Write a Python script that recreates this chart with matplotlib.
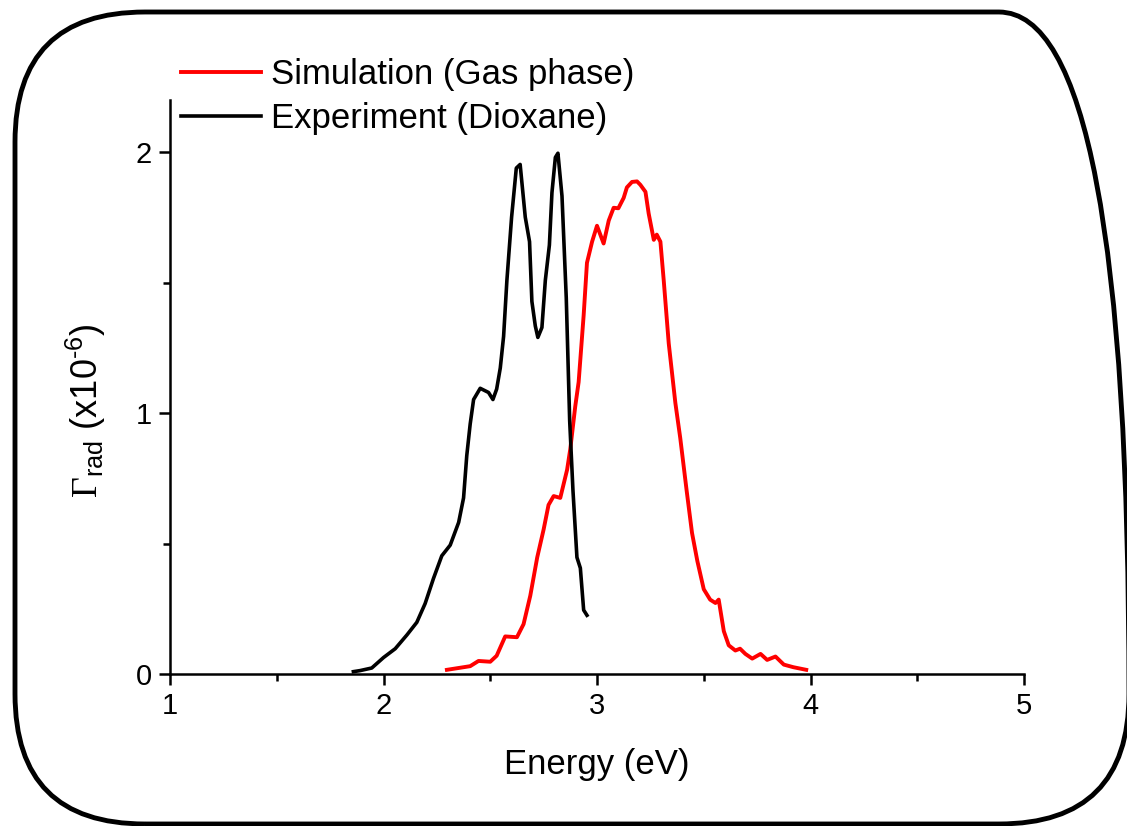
import numpy as np
import matplotlib
matplotlib.use("Agg")
import matplotlib.pyplot as plt
from matplotlib.patches import FancyBboxPatch
from matplotlib.ticker import MultipleLocator

plt.rcParams['font.family'] = ['Liberation Sans', 'DejaVu Sans']
plt.rcParams['mathtext.fontset'] = 'custom'
plt.rcParams['mathtext.rm'] = 'Liberation Serif'
plt.rcParams['mathtext.sf'] = 'Liberation Sans'
plt.rcParams['axes.unicode_minus'] = False

# experiment (dioxane)
exp_energy = [1.859, 1.89, 1.945, 2.0, 2.055, 2.11, 2.156, 2.195, 2.234, 2.273,
              2.3125, 2.352, 2.375, 2.39, 2.406, 2.422, 2.453, 2.492, 2.5125, 2.53,
              2.547, 2.5625, 2.578, 2.60, 2.622, 2.64, 2.664, 2.684, 2.695, 2.711,
              2.723, 2.742, 2.758, 2.777, 2.789, 2.805, 2.817, 2.836, 2.856, 2.872,
              2.8875, 2.906, 2.922, 2.9375, 2.953]
exp_gamma = [0.009, 0.013, 0.023, 0.063, 0.097, 0.15, 0.198, 0.27, 0.366, 0.453,
             0.494, 0.581, 0.675, 0.837, 0.958, 1.052, 1.095, 1.079, 1.052, 1.092,
             1.173, 1.294, 1.509, 1.751, 1.939, 1.953, 1.751, 1.657, 1.428, 1.334,
             1.29, 1.328, 1.509, 1.644, 1.845, 1.98, 1.996, 1.832, 1.442, 0.971,
             0.702, 0.447, 0.406, 0.245, 0.225]

# simulation (gas phase)
sim_energy = [2.297, 2.406, 2.445, 2.5, 2.53, 2.57, 2.625, 2.656, 2.6875, 2.72,
              2.75, 2.773, 2.797, 2.828, 2.86, 2.875, 2.898, 2.914, 2.9375, 2.953,
              2.977, 3.0, 3.031, 3.055, 3.078, 3.1, 3.125, 3.14, 3.164, 3.1875,
              3.203, 3.227, 3.242, 3.266, 3.28, 3.297, 3.3125, 3.336, 3.367, 3.39,
              3.42, 3.445, 3.47, 3.5, 3.53, 3.555, 3.57, 3.594, 3.617, 3.648,
              3.67, 3.695, 3.727, 3.766, 3.797, 3.836, 3.875, 3.92, 3.98]
sim_gamma = [0.016, 0.03, 0.05, 0.047, 0.07, 0.144, 0.141, 0.191, 0.3, 0.447,
             0.554, 0.648, 0.682, 0.675, 0.783, 0.863, 1.025, 1.119, 1.375, 1.576,
             1.657, 1.718, 1.65, 1.738, 1.787, 1.785, 1.825, 1.865, 1.886, 1.888,
             1.875, 1.848, 1.765, 1.664, 1.684, 1.657, 1.509, 1.267, 1.039, 0.904,
             0.702, 0.541, 0.433, 0.325, 0.285, 0.272, 0.285, 0.164, 0.11, 0.09,
             0.097, 0.077, 0.059, 0.077, 0.054, 0.067, 0.036, 0.026, 0.016]

W, H = 1127, 826
fig = plt.figure(figsize=(W / 100, H / 100), dpi=100)

# rounded frame round the whole picture, drawn in pixel units
bg = fig.add_axes([0, 0, 1, 1], zorder=0)
bg.set_xlim(0, W)
bg.set_ylim(0, H)
bg.axis('off')
frame = FancyBboxPatch((15, 2), 1114, 812, boxstyle="round,pad=0,rounding_size=130",
                       fill=False, ec='black', lw=3.5, clip_on=False)
bg.add_patch(frame)

ax = fig.add_axes([170 / W, (H - 674) / H, 854 / W, 574 / H], zorder=1)
ax.patch.set_alpha(0)
ax.plot(sim_energy, sim_gamma, color='#ff0000', lw=2.8, label='Simulation (Gas phase)',
        solid_joinstyle='round')
ax.plot(exp_energy, exp_gamma, color='black', lw=2.6, label='Experiment (Dioxane)',
        solid_joinstyle='round')

ax.set_xlim(1, 5)
ax.set_ylim(0, 2.2)
ax.xaxis.set_major_locator(MultipleLocator(1))
ax.xaxis.set_minor_locator(MultipleLocator(0.5))
ax.yaxis.set_major_locator(MultipleLocator(1))
ax.yaxis.set_minor_locator(MultipleLocator(0.5))
for s in ['top', 'right']:
    ax.spines[s].set_visible(False)
for s in ['left', 'bottom']:
    ax.spines[s].set_linewidth(1.8)
ax.tick_params(which='major', direction='out', length=8, width=1.8, labelsize=21, pad=5)
ax.tick_params(which='minor', direction='out', length=5, width=1.8)

ax.set_xlabel('Energy (eV)', fontsize=25, labelpad=20)
ax.set_ylabel('$\\Gamma_{\\mathsf{rad}}$ (x10$^{\\mathsf{\u2010 6}}$)', fontsize=26)
ax.yaxis.set_label_coords((108 - 170) / 854, (674 - 411) / 574)

ax.legend(loc='center left', bbox_to_anchor=(181 / W, (H - 96.5) / H),
          bbox_transform=fig.transFigure, frameon=False, fontsize=25,
          handlelength=2.3, handletextpad=0.3, labelspacing=0.3, borderpad=0,
          borderaxespad=0)

fig.savefig('out.png', dpi=100)
